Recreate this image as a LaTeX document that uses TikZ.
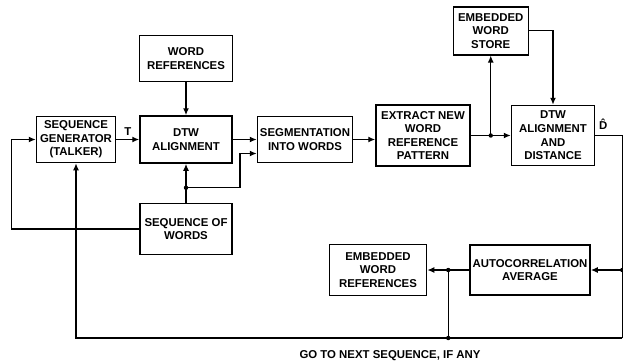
\documentclass[tikz,border=0pt]{standalone}
\usepackage{fontspec}
\setmainfont{Liberation Sans}
\usetikzlibrary{arrows.meta,positioning,calc}
\tikzset{
  base/.style={draw=black,line width=1.5pt,align=center,inner sep=2pt,fill=white},
  block/.style={base,minimum width=92pt,minimum height=47pt},
  flow/.style={-{Latex[length=7pt,width=6pt]},line width=1.4pt},
  link/.style={line width=1.4pt},
  every node/.style={font=\fontsize{11.4}{13.6}\selectfont\bfseries}
}

\begin{document}
\begin{tikzpicture}[x=1pt,y=-1pt,node distance=24pt and 24pt]
\useasboundingbox (0,0) rectangle (623,360);
\node[block] (dtw) at (186,139.5) {DTW\\ALIGNMENT};
\node[block,minimum width=79pt,minimum height=46pt,left=23pt of dtw] (seqgen) {SEQUENCE\\GENERATOR\\(TALKER)};
\node[block,minimum width=93pt,minimum height=46pt,above=33pt of dtw] (wordref) {WORD\\REFERENCES};
\node[block,minimum height=51pt,below=39pt of dtw] (seqwords) {SEQUENCE OF\\WORDS};
\node[block,minimum width=95pt,minimum height=46pt,right=24pt of dtw] (segment) {SEGMENTATION\\INTO WORDS};
\node[block,minimum width=94pt,minimum height=61pt,right=22pt of segment,yshift=4pt] (extract) {EXTRACT NEW\\WORD\\REFERENCE\\PATTERN};
\node[block,minimum width=83pt,minimum height=60pt,right=40pt of extract] (dtwdist) {DTW\\ALIGNMENT\\AND\\DISTANCE};
\coordinate (split) at ($(extract.east)!0.5!(dtwdist.west)$);
\node[block,minimum width=75pt,minimum height=48pt,above=80pt of split] (store) {EMBEDDED\\WORD\\STORE};
\node[block,minimum width=120pt,minimum height=50pt,below=78pt of dtwdist,xshift=-23pt] (autocorr) {AUTOCORRELATION\\AVERAGE};
\node[block,minimum width=97pt,minimum height=51pt,left=42pt of autocorr] (embrefs) {EMBEDDED\\WORD\\REFERENCES};

\coordinate[above=15pt of seqwords.north] (seqtap);
\coordinate[right=27pt of dtwdist.east] (dout);
\coordinate (dcorner) at (dout |- 0,338);
\coordinate (atap) at (dout |- autocorr.east);
\coordinate (etap) at ($(autocorr.west)!0.5!(embrefs.east)$);
\coordinate (btap) at (etap |- dcorner);

\draw[flow] (wordref) -- (dtw);
\draw[flow] (seqgen) -- node[above]{T} (dtw);
\draw[flow] (dtw) -- (segment);
\draw[flow] (seqwords.north) -- (seqtap) -- (dtw.south);
\draw[flow] (seqtap) -- ++(54,0) |- ($(segment.west)+(0,14)$);
\draw[flow] (seqwords.west) -- ++(-128,0) |- (seqgen.west);
\draw[flow] (segment.east) -- (segment.east -| extract.west);
\draw[flow] (extract) -- (dtwdist);
\draw[flow] (split) -- (store);
\draw[flow] (store.east) -| (dtwdist.north);
\draw[link] (dtwdist.east) -- node[above=2pt,pos=0.3]{\^{D}} (dout) -- (dcorner);
\draw[flow] (atap) -- (autocorr.east);
\draw[flow] (autocorr.west) -- (embrefs.east);
\draw[link] (etap) -- (btap);
\draw[flow] (dcorner) -| (seqgen.south);
\foreach \p in {seqtap,split,atap,etap,btap}
  \fill (\p) circle (2.2pt);
\node[anchor=base] (nextseq) at (390,358) {GO TO NEXT SEQUENCE, IF ANY};
\end{tikzpicture}
\end{document}
